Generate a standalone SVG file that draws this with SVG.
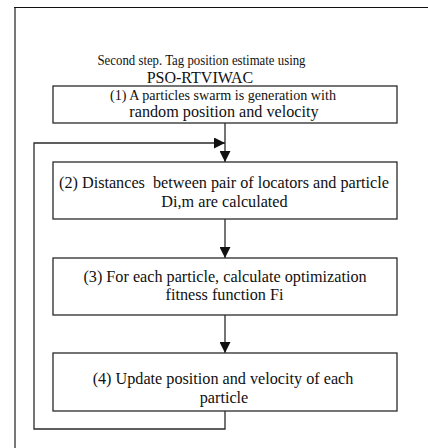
<svg xmlns="http://www.w3.org/2000/svg" width="428" height="448" viewBox="0 0 428 448">
<style>
.box{fill:#fff;stroke:#2a2a2a;stroke-width:1.3}
.ln{fill:none;stroke:#2a2a2a;stroke-width:1.3}
text{font-family:"Liberation Serif","Times New Roman",serif;font-size:16.2px;fill:#111;text-anchor:middle}
</style>
<defs>
<marker id="ah" viewBox="0 0 10 10" refX="10" refY="5" markerWidth="11" markerHeight="11" markerUnits="userSpaceOnUse" orient="auto">
<path d="M0,0 L10,5 L0,10 z" fill="#111"/>
</marker>
</defs>
<rect width="428" height="448" fill="#fff"/>
<g id="frame">
<path d="M15,448 V8" fill="none" stroke="#777" stroke-width="2"/>
<path d="M14,7.5 H428" fill="none" stroke="#111" stroke-width="1.2"/>
</g>
<g id="title">
<text x="201.5" y="65" style="font-size:13.8px" textLength="208" lengthAdjust="spacingAndGlyphs">Second step. Tag position estimate using</text>
<text x="200" y="83" style="font-size:16px">PSO-RTVIWAC</text>
</g>
<g id="connectors">
<path class="ln" d="M225,123 V162" marker-end="url(#ah)"/>
<path class="ln" d="M225,411 V429 H34 V143 H225" marker-end="url(#ah)"/>
<path class="ln" d="M225,219 V258" marker-end="url(#ah)"/>
<path class="ln" d="M225,315 V353" marker-end="url(#ah)"/>
</g>
<g id="n1">
<rect class="box" x="53" y="86" width="344" height="37"/>
<text x="223" y="100" style="font-size:14.6px" textLength="226" lengthAdjust="spacingAndGlyphs">(1) A particles swarm is generation with</text>
<text x="224" y="117">random position and velocity</text>
</g>
<g id="n2">
<rect class="box" x="53" y="162" width="344" height="57"/>
<text x="224" y="188" xml:space="preserve">(2) Distances  between pair of locators and particle</text>
<text x="224.5" y="207">Di,m are calculated</text>
</g>
<g id="n3">
<rect class="box" x="53" y="258" width="344" height="57"/>
<text x="225" y="282">(3) For each particle, calculate optimization</text>
<text x="224.5" y="300">fitness function Fi</text>
</g>
<g id="n4">
<rect class="box" x="53" y="353" width="344" height="58"/>
<text x="223" y="384">(4) Update position and velocity of each</text>
<text x="224" y="403">particle</text>
</g>
</svg>
